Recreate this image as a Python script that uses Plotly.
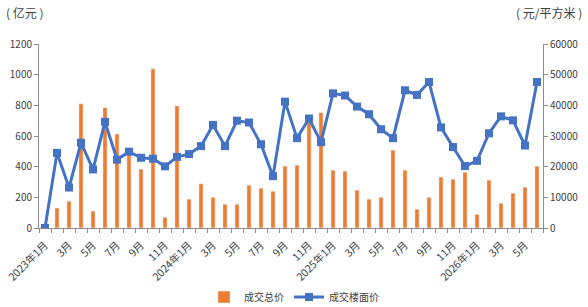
import plotly.graph_objects as go

months = ["2023年1月", "2月", "3月", "4月", "5月", "6月", "7月", "8月", "9月", "10月", "11月", "12月",
          "2024年1月", "2月", "3月", "4月", "5月", "6月", "7月", "8月", "9月", "10月", "11月", "12月",
          "2025年1月", "2月", "3月", "4月", "5月", "6月", "7月", "8月", "9月", "10月", "11月", "12月",
          "2026年1月", "2月", "3月", "4月", "5月", "6月"]

total_price = [0, 130, 175, 810, 110, 785, 613, 485, 384, 1038, 70, 796,
               188, 288, 200, 155, 155, 279, 260, 240, 404, 410, 705, 752,
               377, 371, 247, 188, 200, 508, 377, 122, 200, 332, 318, 364,
               89, 312, 161, 227, 266, 403]

floor_price = [0, 24500, 13200, 27800, 19100, 34600, 22300, 24900, 22900, 22600, 20100, 23200,
               24100, 26700, 33600, 26700, 35000, 34400, 27300, 16900, 41200, 29300, 35700, 28000,
               43900, 43200, 39600, 37100, 32200, 29300, 44900, 43400, 47600, 32800, 26400, 20200,
               21900, 30900, 36400, 35100, 26900, 47600]

x = list(range(len(months)))
font = "Noto Sans CJK SC"
axis_color = "#8c8c8c"
text_color = "#404040"

fig = go.Figure()
fig.add_trace(go.Bar(x=x, y=total_price, name="成交总价", marker_color="#ED7D31",
                     width=0.34, yaxis="y"))
fig.add_trace(go.Scatter(x=x, y=floor_price, name="成交楼面价", mode="lines+markers",
                         line=dict(color="#4472C4", width=3),
                         marker=dict(symbol="square", size=8, color="#4472C4"),
                         yaxis="y2"))

tickvals = x[::2]
ticktext = months[::2]

fig.update_layout(
    width=588, height=307,
    margin=dict(l=39, r=45, t=44, b=79, autoexpand=False),
    paper_bgcolor="white", plot_bgcolor="white",
    font=dict(family=font, size=10, color=text_color),
    showlegend=True,
    legend=dict(orientation="h", x=0.5, xref="container", xanchor="center",
                y=(307 - 297) / 307, yref="container", yanchor="middle",
                bgcolor="rgba(0,0,0,0)",
                font=dict(size=10, color=text_color), itemwidth=30),
    bargap=0.6,
    xaxis=dict(range=[-0.5, len(months) - 0.5], tickmode="array", tickvals=tickvals,
               ticktext=ticktext, tickangle=-45, ticks="", showgrid=False, automargin=False,
               ticklabelstandoff=6,
               showline=True, linecolor=axis_color, linewidth=1, zeroline=False,
               minor=dict(tickmode="array", tickvals=[i - 0.5 for i in range(len(months) + 1)],
                          ticks="outside", ticklen=4, tickcolor=axis_color, showgrid=False),
               tickfont=dict(size=10.5)),
    yaxis=dict(range=[0, 1200], dtick=200, showgrid=False, showline=True, automargin=False,
               linecolor=axis_color, ticks="outside", ticklen=4, tickcolor=axis_color,
               zeroline=False, tickfont=dict(size=10)),
    yaxis2=dict(range=[0, 60000], dtick=10000, overlaying="y", side="right", tickformat="d",
                showgrid=False, showline=True, linecolor=axis_color, ticks="outside",
                automargin=False,
                ticklen=4, tickcolor=axis_color, zeroline=False, tickfont=dict(size=10)),
    annotations=[
        dict(text="( 亿元 )", xref="paper", yref="paper", x=0, y=1, xshift=-35, yshift=42,
             xanchor="left", yanchor="top", showarrow=False, font=dict(size=12, color=text_color)),
        dict(text="( 元/平方米 )", xref="paper", yref="paper", x=1, y=1, xshift=41, yshift=42,
             xanchor="right", yanchor="top", showarrow=False, font=dict(size=12, color=text_color)),
    ],
)

fig.write_html("out.html")
